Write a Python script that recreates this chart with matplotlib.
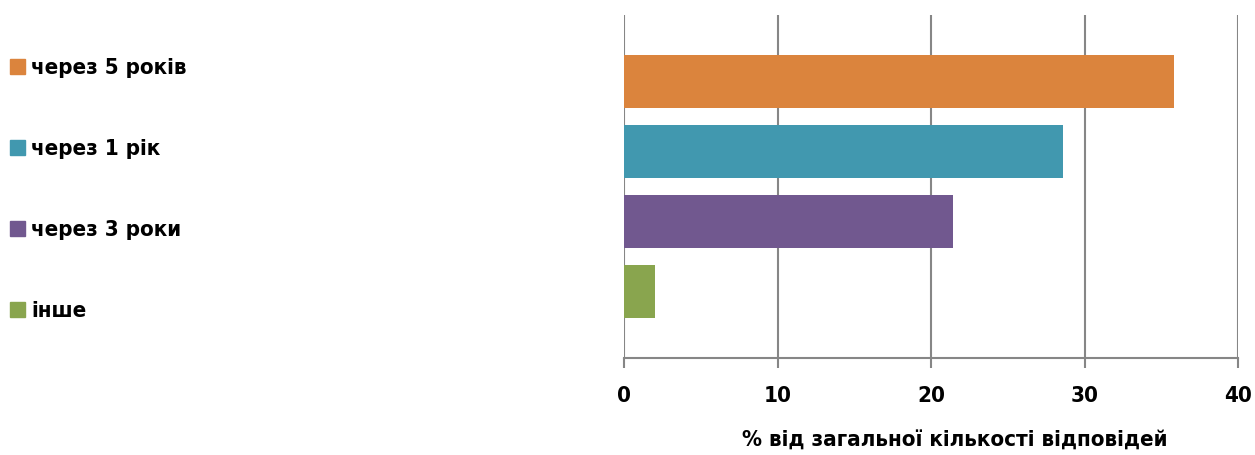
import matplotlib.pyplot as plt
from matplotlib.patches import Patch

plt.rcParams['font.family'] = ['DejaVu Sans']
plt.rcParams['font.stretch'] = 'condensed'
plt.rcParams['font.weight'] = 'bold'
plt.rcParams['axes.labelweight'] = 'bold'

categories = ["через 5 років", "через 1 рік", "через 3 роки", "інше"]
values = [35.8, 28.6, 21.4, 2.0]
colors = ["#DB843D", "#4198AF", "#71588F", "#89A54E"]
ticks = [0, 10, 20, 30, 40]
xlabel = "% від загальної кількості відповідей"

fig = plt.figure(figsize=(12.55, 4.55), dpi=100)
ax = fig.add_axes([0.4972, 0.2132, 0.4893, 0.7538])

pos = range(len(categories))
ax.barh(pos, values, height=0.75, color=colors, zorder=2)
ax.set_ylim(3.95, -0.95)
ax.set_xlim(0, 40)
ax.set_xticks(ticks)
ax.grid(axis='x', color='#868686', lw=1.5, zorder=1)
ax.set_yticks([])
for s in ['top', 'right', 'left']:
    ax.spines[s].set_visible(False)
ax.spines['bottom'].set_color('#868686')
ax.spines['bottom'].set_linewidth(1.5)
ax.tick_params(axis='x', length=7, width=1.5, color='#868686', pad=13, labelsize=16)
ax.set_xlabel(xlabel, fontsize=16)
ax.xaxis.set_label_coords(0.539, -0.213)

handles = [Patch(color=c, label=l) for c, l in zip(colors, categories)]
fig.legend(handles=handles, loc='upper left', bbox_to_anchor=(0.001, 0.892),
           frameon=False, fontsize=16, handlelength=0.65, handleheight=0.65,
           handletextpad=0.3, labelspacing=2.75, borderaxespad=0)

fig.savefig("out.png", dpi=100)
